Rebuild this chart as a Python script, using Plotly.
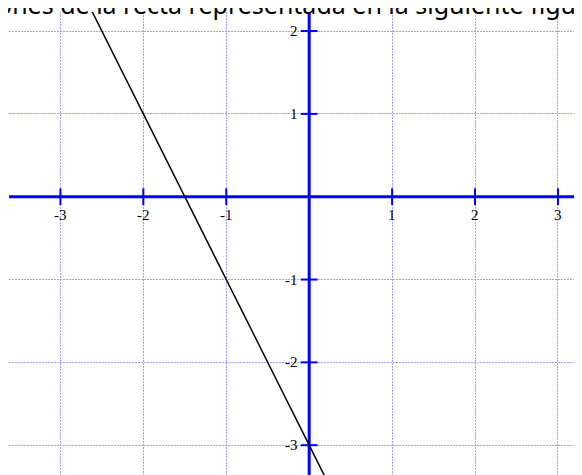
import plotly.graph_objects as go

# straight line drawn in the figure (two points on it)
line_x = [-2.7, 0.3]
line_y = [2.4, -3.6]

# axis ticks and labels
x_ticks = [-3, -2, -1, 1, 2, 3]
x_labels = ["-3", "-2", "-1", "1", "2", "3"]
y_ticks = [-3, -2, -1, 1, 2]
y_labels = ["-3", "-2", "-1", "1", "2"]

caption = "ones de la recta representada en la siguiente figura"

BLUE = "#0000ff"
GRID = "#a0a0ff"

fig = go.Figure()

# the two axes through the origin
fig.add_trace(go.Scatter(x=[-4, 4], y=[0, 0], mode="lines",
                         line=dict(color=BLUE, width=3), hoverinfo="skip"))
fig.add_trace(go.Scatter(x=[0, 0], y=[-4, 3], mode="lines",
                         line=dict(color=BLUE, width=3), hoverinfo="skip"))

# tick marks crossing the axes
fig.add_trace(go.Scatter(x=x_ticks, y=[0] * len(x_ticks), mode="markers",
                         marker=dict(symbol="line-ns", size=12,
                                     line=dict(color=BLUE, width=2)),
                         hoverinfo="skip"))
fig.add_trace(go.Scatter(x=[0] * len(y_ticks), y=y_ticks, mode="markers",
                         marker=dict(symbol="line-ew", size=12,
                                     line=dict(color=BLUE, width=2)),
                         hoverinfo="skip"))

# the line itself
fig.add_trace(go.Scatter(x=line_x, y=line_y, mode="lines",
                         line=dict(color="black", width=1.5)))

label_font = dict(family="Liberation Serif, Times New Roman, serif",
                  size=15, color="black")
for xv, lab in zip(x_ticks, x_labels):
    fig.add_annotation(x=xv, y=0, text=lab, showarrow=False, font=label_font,
                       xanchor="center", yanchor="middle", yshift=-18)
for yv, lab in zip(y_ticks, y_labels):
    fig.add_annotation(x=0, y=yv, text=lab, showarrow=False, font=label_font,
                       xanchor="right", yanchor="middle", xshift=-9)

# cropped caption line from the page above the figure
fig.add_annotation(x=0, y=1, xref="paper", yref="paper", text=caption,
                   showarrow=False, xanchor="left", yanchor="middle",
                   xshift=-14, yshift=8,
                   font=dict(family="Noto Sans, Open Sans, sans-serif",
                             size=25, color="black"))

# the page body adds an 8px offset, so the figure is 8px smaller than the window
fig.update_layout(
    width=574, height=467,
    margin=dict(l=1, r=0, t=4, b=0),
    plot_bgcolor="white", paper_bgcolor="white",
    showlegend=False,
    xaxis=dict(range=[-3.62, 3.29], dtick=1, tick0=0, showgrid=True,
               gridcolor=GRID, griddash="2px,1px", gridwidth=1,
               zeroline=False, showticklabels=False, ticks=""),
    yaxis=dict(range=[-3.36, 2.23], dtick=1, tick0=0, showgrid=True,
               gridcolor=GRID, griddash="2px,1px", gridwidth=1,
               zeroline=False, showticklabels=False, ticks=""),
)

fig.write_html("out.html")
